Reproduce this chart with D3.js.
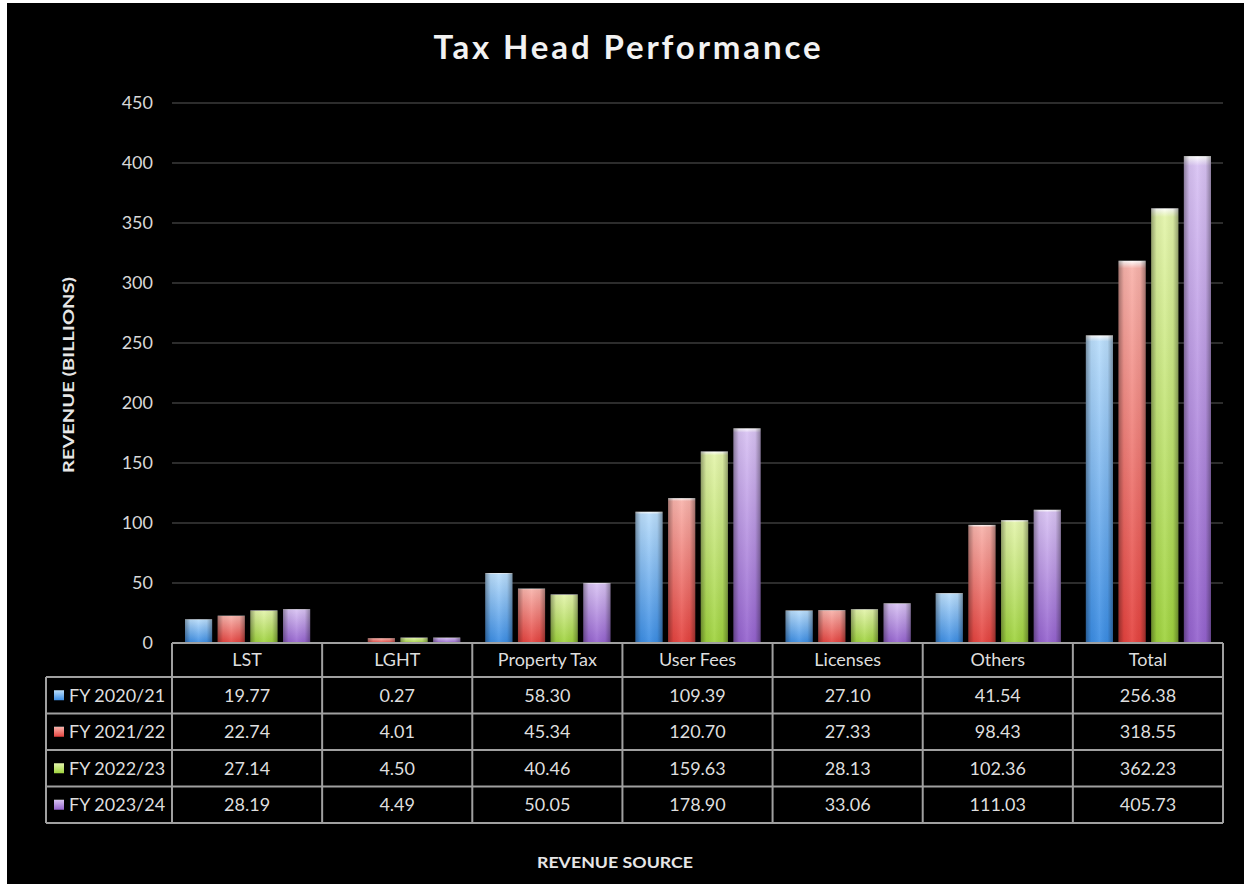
<!DOCTYPE html>
<html><head><meta charset="utf-8">
<script src="https://cdn.jsdelivr.net/npm/d3@7"></script>
<style>html,body{margin:0;padding:0;background:#fff;}svg{display:block;}</style>
</head><body>
<script>
const categories = ["LST","LGHT","Property Tax","User Fees","Licenses","Others","Total"];
const seriesNames = ["FY 2020/21","FY 2021/22","FY 2022/23","FY 2023/24"];
const fy2020 = [19.77, 0.27, 58.30, 109.39, 27.10, 41.54, 256.38];
const fy2021 = [22.74, 4.01, 45.34, 120.70, 27.33, 98.43, 318.55];
const fy2022 = [27.14, 4.50, 40.46, 159.63, 28.13, 102.36, 362.23];
const fy2023 = [28.19, 4.49, 50.05, 178.90, 33.06, 111.03, 405.73];
const yTicks = [0,50,100,150,200,250,300,350,400,450];
const baseColors = ["#3b8de4","#e5433f","#9fd33e","#9563cf"];
const topColors  = ["#b9ddfb","#f8b2aa","#e3f4aa","#d8c2f3"];
const title = "Tax Head Performance";
const yLabel = "REVENUE (BILLIONS)";
const xLabel = "REVENUE SOURCE";

const series = [fy2020, fy2021, fy2022, fy2023];
const W = 1244, H = 884;
const svg = d3.select("body").append("svg").attr("width", W).attr("height", H);
svg.append("rect").attr("x",7).attr("y",3).attr("width",W-7).attr("height",H-3).attr("fill","#000");

const defs = svg.append("defs");
baseColors.forEach((c,i)=>{
  const g = defs.append("linearGradient").attr("id","g"+i).attr("x1",0).attr("y1",0).attr("x2",0).attr("y2",1);
  g.append("stop").attr("offset","0%").attr("stop-color","#ffffff");
  g.append("stop").attr("offset","2%").attr("stop-color",topColors[i]);
  g.append("stop").attr("offset","100%").attr("stop-color",c);
});
const hs = defs.append("linearGradient").attr("id","hshade").attr("x1",0).attr("y1",0).attr("x2",1).attr("y2",0);
hs.append("stop").attr("offset","0%").attr("stop-color","#000").attr("stop-opacity",0.35);
hs.append("stop").attr("offset","20%").attr("stop-color","#000").attr("stop-opacity",0.05);
hs.append("stop").attr("offset","50%").attr("stop-color","#fff").attr("stop-opacity",0.08);
hs.append("stop").attr("offset","80%").attr("stop-color","#000").attr("stop-opacity",0.05);
hs.append("stop").attr("offset","100%").attr("stop-color","#000").attr("stop-opacity",0.35);

const plotL = 172, plotR = 1223, y0px = 643, yTopPx = 103;
const x0 = d3.scaleBand().domain(categories).range([plotL, plotR]).padding(0);
const x1 = d3.scaleBand().domain(d3.range(seriesNames.length)).range([13, x0.bandwidth()-12]).paddingInner(0.17).paddingOuter(0);
const y = d3.scaleLinear().domain([0,450]).range([y0px, yTopPx]);

const font = "Lato, 'Open Sans', sans-serif";

// gridlines
svg.append("g").selectAll("line").data(yTicks.filter(d=>d>0)).join("line")
  .attr("x1",plotL).attr("x2",plotR).attr("y1",d=>y(d)).attr("y2",d=>y(d))
  .attr("stroke","#2c2c2c").attr("stroke-width",2);

// y tick labels
svg.append("g").selectAll("text").data(yTicks).join("text")
  .attr("x",153).attr("y",d=>y(d)).attr("dy","0.35em").attr("text-anchor","end")
  .attr("fill","#d8d8d8").attr("font-family",font).attr("font-size",18).text(d=>d);

// bars
const groups = svg.append("g").selectAll("g").data(categories).join("g")
  .attr("transform",d=>`translate(${x0(d)},0)`);
groups.each(function(cat, ci){
  const gsel = d3.select(this);
  series.forEach((s, si)=>{
    const v = s[ci];
    gsel.append("rect").attr("x",x1(si)).attr("width",x1.bandwidth())
      .attr("y",y(v)).attr("height",y(0)-y(v)).attr("fill",`url(#g${si})`);
    gsel.append("rect").attr("x",x1(si)).attr("width",x1.bandwidth())
      .attr("y",y(v)).attr("height",y(0)-y(v)).attr("fill","url(#hshade)");
  });
});

// table
const tableTop = y0px, headerBottom = 677, tableBottom = 823, legendL = 46;
const rowY = d3.scaleBand().domain(d3.range(seriesNames.length)).range([headerBottom, tableBottom]);
const lineC = "#a0a0a0", lw = 2;
const tg = svg.append("g");
tg.append("line").attr("x1",plotL).attr("x2",plotR).attr("y1",tableTop).attr("y2",tableTop).attr("stroke",lineC).attr("stroke-width",lw);
tg.selectAll("line.h").data(d3.range(seriesNames.length+1)).join("line").attr("class","h")
  .attr("x1",legendL).attr("x2",plotR)
  .attr("y1",i=> i<seriesNames.length ? rowY(i) : tableBottom)
  .attr("y2",i=> i<seriesNames.length ? rowY(i) : tableBottom)
  .attr("stroke",lineC).attr("stroke-width",lw);
const colEdges = categories.map(c=>x0(c)).concat([plotR]);
tg.selectAll("line.v").data(colEdges).join("line").attr("class","v")
  .attr("x1",d=>d).attr("x2",d=>d).attr("y1",tableTop).attr("y2",tableBottom)
  .attr("stroke",lineC).attr("stroke-width",lw);
tg.append("line").attr("x1",legendL).attr("x2",legendL).attr("y1",headerBottom).attr("y2",tableBottom)
  .attr("stroke",lineC).attr("stroke-width",lw);

tg.selectAll("text.hd").data(categories).join("text").attr("class","hd")
  .attr("x",d=>x0(d)+x0.bandwidth()/2).attr("y",(tableTop+headerBottom)/2).attr("dy","0.35em")
  .attr("text-anchor","middle").attr("fill","#dedede").attr("font-family",font).attr("font-size",18).text(d=>d);

series.forEach((s, si)=>{
  tg.append("g").selectAll("text").data(categories).join("text")
    .attr("x",d=>x0(d)+x0.bandwidth()/2).attr("y",rowY(si)+rowY.bandwidth()/2).attr("dy","0.35em")
    .attr("text-anchor","middle").attr("fill","#dedede").attr("font-family",font).attr("font-size",18)
    .text((d,ci)=>s[ci].toFixed(2));
});

seriesNames.forEach((n, si)=>{
  const cy = rowY(si)+rowY.bandwidth()/2;
  tg.append("rect").attr("x",54).attr("y",cy-5).attr("width",10).attr("height",10).attr("fill",`url(#g${si})`);
  tg.append("text").attr("x",69).attr("y",cy).attr("dy","0.35em").attr("fill","#dedede")
    .attr("font-family",font).attr("font-size",18).text(n);
});

svg.append("text").attr("x",627).attr("y",59).attr("text-anchor","middle")
  .attr("fill","#f2f2f2").attr("font-family",font).attr("font-weight","bold").attr("font-size",33)
  .attr("textLength",387).attr("lengthAdjust","spacing").text(title);

svg.append("text").attr("transform","translate(74,375) rotate(-90)").attr("text-anchor","middle")
  .attr("fill","#e6e6e6").attr("font-family",font).attr("font-weight","bold").attr("font-size",15)
  .attr("textLength",196).attr("lengthAdjust","spacingAndGlyphs").text(yLabel);
svg.append("text").attr("x",615).attr("y",868).attr("text-anchor","middle")
  .attr("fill","#e6e6e6").attr("font-family",font).attr("font-weight","bold").attr("font-size",16)
  .attr("textLength",156).attr("lengthAdjust","spacingAndGlyphs").text(xLabel);
</script>
</body></html>
